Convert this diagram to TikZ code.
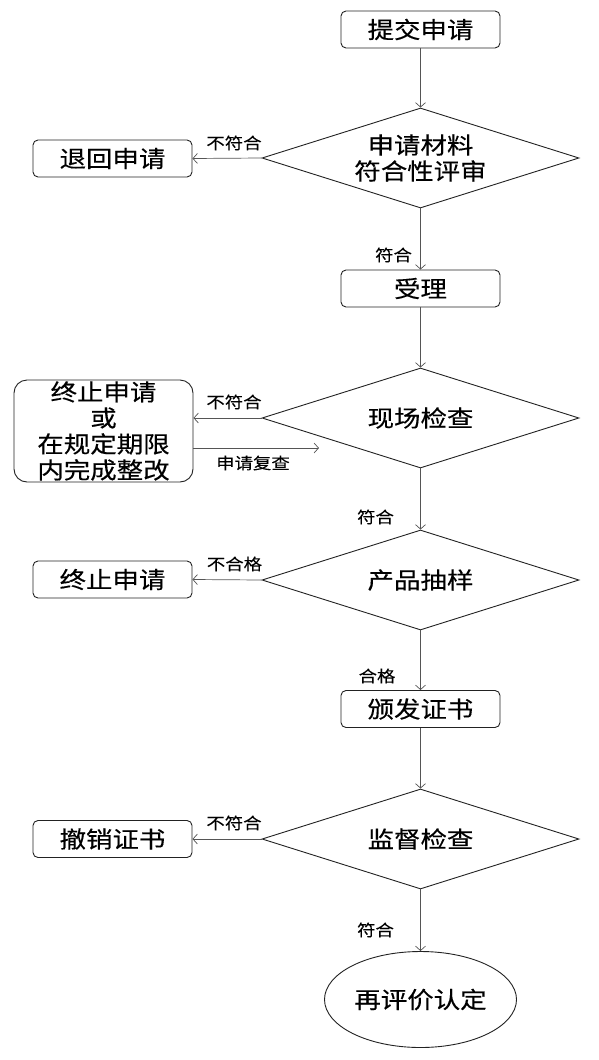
\documentclass[tikz,border=0pt]{standalone}
\usepackage{fontspec}
\newfontfamily\cjk[FakeStretch=1.15,FakeBold=0.35]{Noto Sans CJK SC}
\newfontfamily\cjks[FakeStretch=1.15,FakeBold=0.15]{Noto Sans CJK SC}
\usetikzlibrary{shapes.geometric,arrows.meta}
\definecolor{edgec}{HTML}{222222}
\definecolor{linec}{HTML}{555555}
\tikzset{
  procbox/.style={draw=edgec,line width=0.9pt,rounded corners=5pt,minimum width=159pt,minimum height=37pt,inner sep=0pt,font=\cjk\fontsize{23}{26}\selectfont},
  bigbox/.style={draw=edgec,line width=0.9pt,rounded corners=13pt,minimum width=179pt,minimum height=102pt,inner sep=0pt,align=center,font=\cjk\fontsize{23}{26}\selectfont},
  decide/.style={draw=edgec,line width=0.9pt,diamond,aspect=3.17,minimum width=317pt,minimum height=100pt,inner sep=0pt,align=center,font=\cjk\fontsize{23}{26}\selectfont},
  endell/.style={draw=edgec,line width=0.9pt,ellipse,minimum width=192pt,minimum height=96pt,inner sep=0pt,font=\cjk\fontsize{23}{26}\selectfont},
  conn/.style={draw=linec,line width=0.7pt,-{Straight Barb[length=4.5pt,width=10pt]}},
  lbl/.style={inner sep=0pt,font=\cjks\fontsize{16}{19}\selectfont}
}
\begin{document}
\begin{tikzpicture}[x=1pt,y=-1pt]
\useasboundingbox (0,0) rectangle (599,1060);
\node[procbox] (n1) at (420.5,29.5) {提交申请};
\node[decide] (d1) at (420.5,158) {申请材料\\符合性评审};
\node[procbox] (r1) at (112.5,158.5) {退回申请};
\node[procbox] (n2) at (420.5,288.5) {受理};
\node[decide] (d2) at (420.5,418) {现场检查};
\node[bigbox] (r2) at (103.5,431) {终止申请\\或\\在规定期限\\内完成整改};
\node[decide] (d3) at (420.5,580) {产品抽样};
\node[procbox] (r3) at (112.5,579.5) {终止申请};
\node[procbox] (n3) at (420.5,709) {颁发证书};
\node[decide] (d4) at (420.5,839) {监督检查};
\node[procbox] (r4) at (112.5,839) {撤销证书};
\node[endell] (e1) at (420.5,999.5) {再评价认定};
\coordinate (re) at (319,448);

\draw[conn] (n1) -- (d1);
\draw[conn] (d1) -- (n2);
\draw[conn] (n2) -- (d2);
\draw[conn] (d2) -- (d3);
\draw[conn] (d3) -- (n3);
\draw[conn] (n3) -- (d4);
\draw[conn] (d4) -- (e1);
\draw[conn] (d1.west) -- (r1.east);
\draw[conn] (d2.west) -- (r2.east |- d2.west);
\draw[conn] (r2.east |- re) -- (re);
\draw[conn] (d3.west) -- (r3.east);
\draw[conn] (d4.west) -- (r4.east);

\node[lbl] (l1) at (234,143) {不符合};
\node[lbl] (l2) at (393.5,255) {符合};
\node[lbl] (l3) at (234,402) {不符合};
\node[lbl] (l4) at (253,463) {申请复查};
\node[lbl] (l5) at (375.5,517) {符合};
\node[lbl] (l6) at (234.5,564) {不合格};
\node[lbl] (l7) at (377,676) {合格};
\node[lbl] (l9) at (234,823) {不符合};
\node[lbl] (l8) at (375.5,930) {符合};
\end{tikzpicture}
\end{document}
